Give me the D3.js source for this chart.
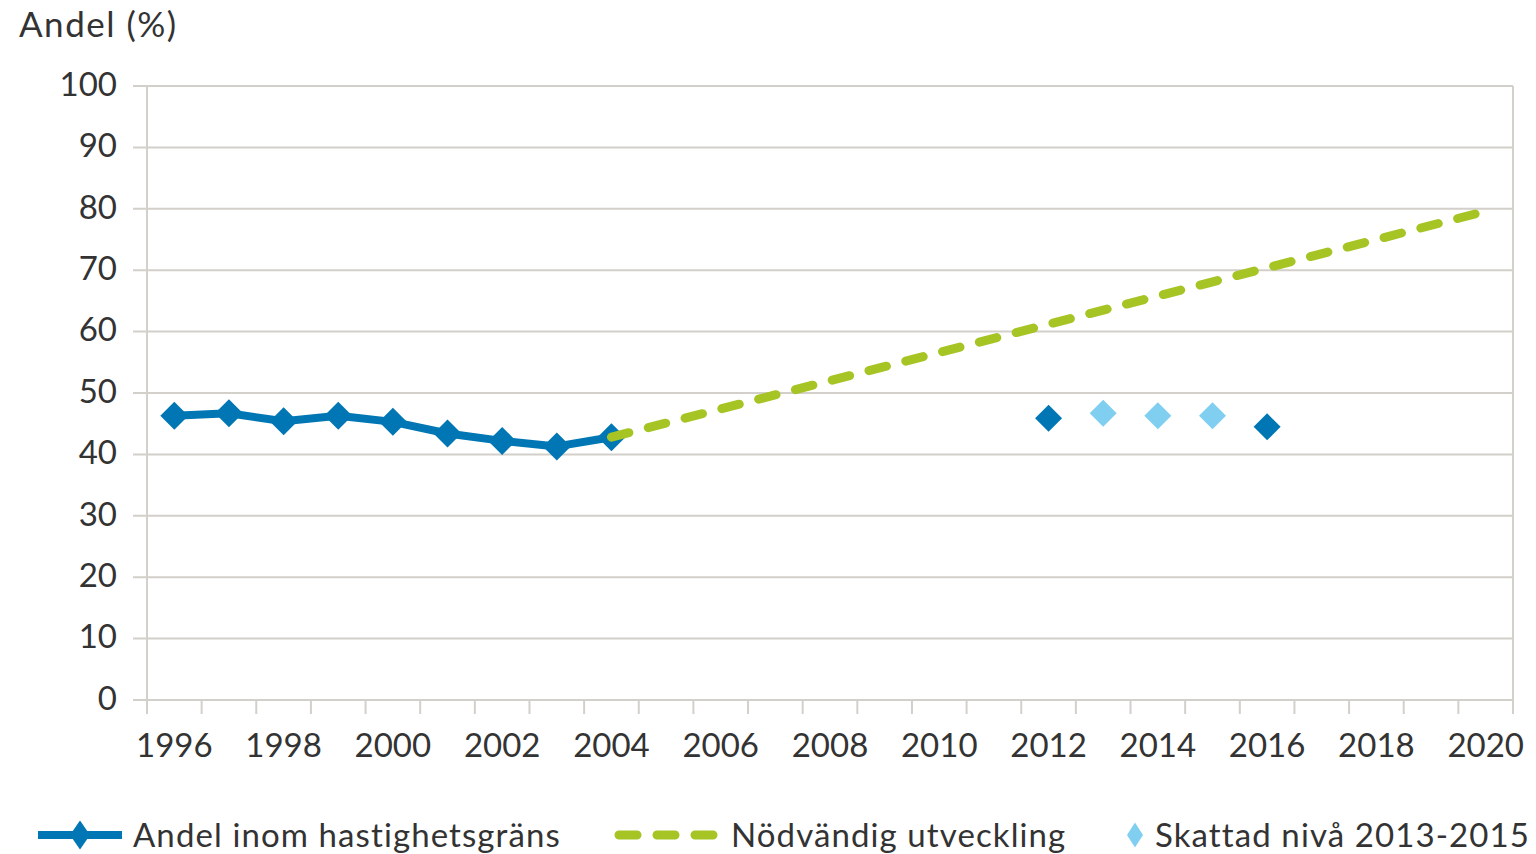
<!DOCTYPE html>
<html>
<head>
<meta charset="utf-8">
<script src="https://cdn.jsdelivr.net/npm/d3@7"></script>
<style>
  html, body { margin: 0; padding: 0; background: #fff; }
  svg { display: block; }
</style>
</head>
<body>
<svg id="chart"></svg>
<script>
const years = d3.range(1996, 2021).map(String);
const yTicks = [0, 10, 20, 30, 40, 50, 60, 70, 80, 90, 100];
const xLabelYears = ['1996', '1998', '2000', '2002', '2004', '2006', '2008', '2010', '2012', '2014', '2016', '2018', '2020'];

const observedYears = ['1996', '1997', '1998', '1999', '2000', '2001', '2002', '2003', '2004'];
const observedValues = [46.3, 46.7, 45.4, 46.3, 45.3, 43.4, 42.2, 41.3, 42.8];

const laterYears = ['2012', '2016'];
const laterValues = [45.9, 44.5];

const estimatedYears = ['2013', '2014', '2015'];
const estimatedValues = [46.7, 46.3, 46.3];

const targetYears = ['2004', '2020'];
const targetValues = [42.8, 79.6];

const W = 1536, H = 854;
const MARGIN = { top: 86, right: 23, bottom: 154, left: 147 };
const WIDTH = W - MARGIN.left - MARGIN.right;
const HEIGHT = H - MARGIN.top - MARGIN.bottom;

const blue = '#0077b4';
const lightBlue = '#80cff1';
const green = '#a6c424';
const gridColor = '#d3cfca';
const textColor = '#333';
const FONT = 'Lato, "Open Sans", sans-serif';

const svg = d3.select('#chart').attr('width', W).attr('height', H);

const x = d3.scaleBand().domain(years).range([0, WIDTH]).padding(0);
const y = d3.scaleLinear().domain([0, 100]).range([HEIGHT, 0]);
const cx = d => x(d) + x.bandwidth() / 2;

const g = svg.append('g').attr('transform', `translate(${MARGIN.left},${MARGIN.top})`);

// grid
g.append('g')
    .selectAll('line')
    .data(yTicks)
    .join('line')
    .attr('x1', -14)
    .attr('x2', WIDTH)
    .attr('y1', d => y(d))
    .attr('y2', d => y(d))
    .attr('stroke', gridColor)
    .attr('stroke-width', 2);

// y labels
g.append('g')
    .selectAll('text')
    .data(yTicks)
    .join('text')
    .attr('x', -30)
    .attr('y', d => y(d) - 2)
    .attr('dy', '0.36em')
    .attr('text-anchor', 'end')
    .style('font-family', FONT)
    .style('font-size', '33px')
    .style('fill', textColor)
    .text(d => d);

// vertical frame lines
[0, WIDTH].forEach(px => {
    g.append('line')
        .attr('x1', px).attr('x2', px)
        .attr('y1', 0).attr('y2', HEIGHT + 14)
        .attr('stroke', gridColor)
        .attr('stroke-width', 2);
});

// x ticks at band boundaries
g.append('g')
    .selectAll('line')
    .data(years.slice(1))
    .join('line')
    .attr('x1', d => x(d))
    .attr('x2', d => x(d))
    .attr('y1', HEIGHT)
    .attr('y2', HEIGHT + 14)
    .attr('stroke', gridColor)
    .attr('stroke-width', 2);

g.append('g')
    .selectAll('text')
    .data(xLabelYears)
    .join('text')
    .attr('x', d => cx(d))
    .attr('y', HEIGHT + 57)
    .attr('text-anchor', 'middle')
    .style('font-family', FONT)
    .style('font-size', '33px')
    .style('fill', textColor)
    .text(d => d);

// axis title
svg.append('text')
    .attr('x', 19)
    .attr('y', 37)
    .style('font-family', FONT)
    .style('font-size', '35px')
    .style('letter-spacing', '1.5px')
    .style('fill', textColor)
    .text('Andel (%)');

const diamond = (r) => `M0,${-r}L${r},0L0,${r}L${-r},0Z`;
const diamondTall = (w, h) => `M0,${-h}L${w},0L0,${h}L${-w},0Z`;

// observed line
const obs = observedYears.map((d, i) => ({ year: d, value: observedValues[i] }));
g.append('path')
    .datum(obs)
    .attr('fill', 'none')
    .attr('stroke', blue)
    .attr('stroke-width', 8)
    .attr('stroke-linejoin', 'round')
    .attr('d', d3.line().x(d => cx(d.year)).y(d => y(d.value)));

g.selectAll('path.obs')
    .data(obs)
    .join('path')
    .attr('class', 'obs')
    .attr('transform', d => `translate(${cx(d.year)},${y(d.value)})`)
    .attr('d', diamond(14))
    .attr('fill', blue);

// target dashed line
const tgt = targetYears.map((d, i) => ({ year: d, value: targetValues[i] }));
g.append('path')
    .datum(tgt)
    .attr('fill', 'none')
    .attr('stroke', green)
    .attr('stroke-width', 9)
    .attr('stroke-linecap', 'round')
    .attr('stroke-dasharray', '18,20')
    .attr('d', d3.line().x(d => cx(d.year)).y(d => y(d.value)));

// later observed points
g.selectAll('path.later')
    .data(laterYears.map((d, i) => ({ year: d, value: laterValues[i] })))
    .join('path')
    .attr('class', 'later')
    .attr('transform', d => `translate(${cx(d.year)},${y(d.value)})`)
    .attr('d', diamond(13.5))
    .attr('fill', blue);

// estimated points
g.selectAll('path.est')
    .data(estimatedYears.map((d, i) => ({ year: d, value: estimatedValues[i] })))
    .join('path')
    .attr('class', 'est')
    .attr('transform', d => `translate(${cx(d.year)},${y(d.value)})`)
    .attr('d', diamond(13.5))
    .attr('fill', lightBlue);

// legend
const legend = svg.append('g').attr('transform', 'translate(0,835)');
const legendText = (px, label) => legend.append('text')
    .attr('x', px)
    .attr('y', 0)
    .attr('dy', '0.36em')
    .style('font-family', FONT)
    .style('font-size', '33px')
    .style('letter-spacing', '1.1px')
    .style('fill', textColor)
    .text(label);

legend.append('line')
    .attr('x1', 38).attr('x2', 122)
    .attr('stroke', blue).attr('stroke-width', 8);
legend.append('path')
    .attr('transform', 'translate(80,0)')
    .attr('d', diamondTall(10, 14.5))
    .attr('fill', blue);
legendText(133, 'Andel inom hastighetsgräns');

legend.append('line')
    .attr('x1', 619).attr('x2', 718)
    .attr('stroke', green).attr('stroke-width', 9)
    .attr('stroke-linecap', 'round')
    .attr('stroke-dasharray', '18,20');
legendText(731, 'Nödvändig utveckling');

legend.append('path')
    .attr('transform', 'translate(1135,0)')
    .attr('d', diamondTall(8, 12.5))
    .attr('fill', lightBlue);
legendText(1155, 'Skattad nivå 2013-2015');
</script>
</body>
</html>
